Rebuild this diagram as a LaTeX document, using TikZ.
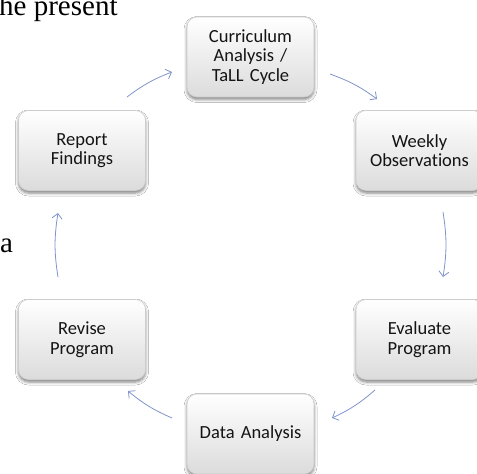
\documentclass[tikz,border=0pt]{standalone}
\usepackage{fontspec}
\setmainfont{Liberation Serif}
\newfontfamily\boxfont[RawFeature=-liga]{Carlito}
\usetikzlibrary{arrows.meta,shadows.blur}
\definecolor{arrowblue}{RGB}{128,149,204}
\definecolor{boxtext}{RGB}{20,20,20}
\definecolor{boxedge}{RGB}{205,205,205}
\tikzset{
  cyclebox/.style={rounded corners=10pt, draw=boxedge, line width=0.6pt,
    top color=white, bottom color=black!14,
    blur shadow={shadow xshift=0pt, shadow yshift=-2.5pt, shadow blur radius=3pt, shadow opacity=50},
    minimum width=127pt, minimum height=80pt, text width=125pt, inner sep=0pt,
    align=center, text=boxtext, font=\boxfont\fontsize{18.5}{19.5}\selectfont},
  cyclearrow/.style={draw=arrowblue, line width=0.8pt, -{Straight Barb[length=5pt,width=10pt]}},
  pagetext/.style={inner sep=0pt, anchor=base west, font=\fontsize{29}{32}\selectfont}
}
\begin{document}
\begin{tikzpicture}[x=1pt,y=-1pt]
\useasboundingbox[fill=white] (0,0) rectangle (477,474);
\node[pagetext] (frag1) at (-1,15) {he present};
\node[pagetext] (frag2) at (0,252) {a};

\node[cyclebox] (curr) at (250.5,57) {Curriculum\\Analysis /\\TaLL Cycle};
\node[cyclebox] (week) at (419.5,150.5) {Weekly\\Observations};
\node[cyclebox] (eval) at (419.5,339.5) {Evaluate\\Program};
\node[cyclebox] (data) at (250.5,434) {Data Analysis};
\node[cyclebox] (revi) at (82,339.5) {Revise\\Program};
\node[cyclebox] (repo) at (82,150.5) {Report\\Findings};

\coordinate (a1s) at (127,97);  \coordinate (a1e) at (172,72);
\coordinate (a2s) at (330,74);  \coordinate (a2e) at (377,99);
\coordinate (a3s) at (443,212); \coordinate (a3e) at (443,277);
\coordinate (a4s) at (375,390); \coordinate (a4e) at (332,418);
\coordinate (a5s) at (172,418); \coordinate (a5e) at (128,391);
\coordinate (a6s) at (58,277);  \coordinate (a6e) at (58,213);

\draw[cyclearrow] (a1s) to[bend left=8] (a1e);
\draw[cyclearrow] (a2s) to[bend left=8] (a2e);
\draw[cyclearrow] (a3s) to[bend left=9] (a3e);
\draw[cyclearrow] (a4s) to[bend left=8] (a4e);
\draw[cyclearrow] (a5s) to[bend left=8] (a5e);
\draw[cyclearrow] (a6s) to[bend left=9] (a6e);
\end{tikzpicture}
\end{document}
